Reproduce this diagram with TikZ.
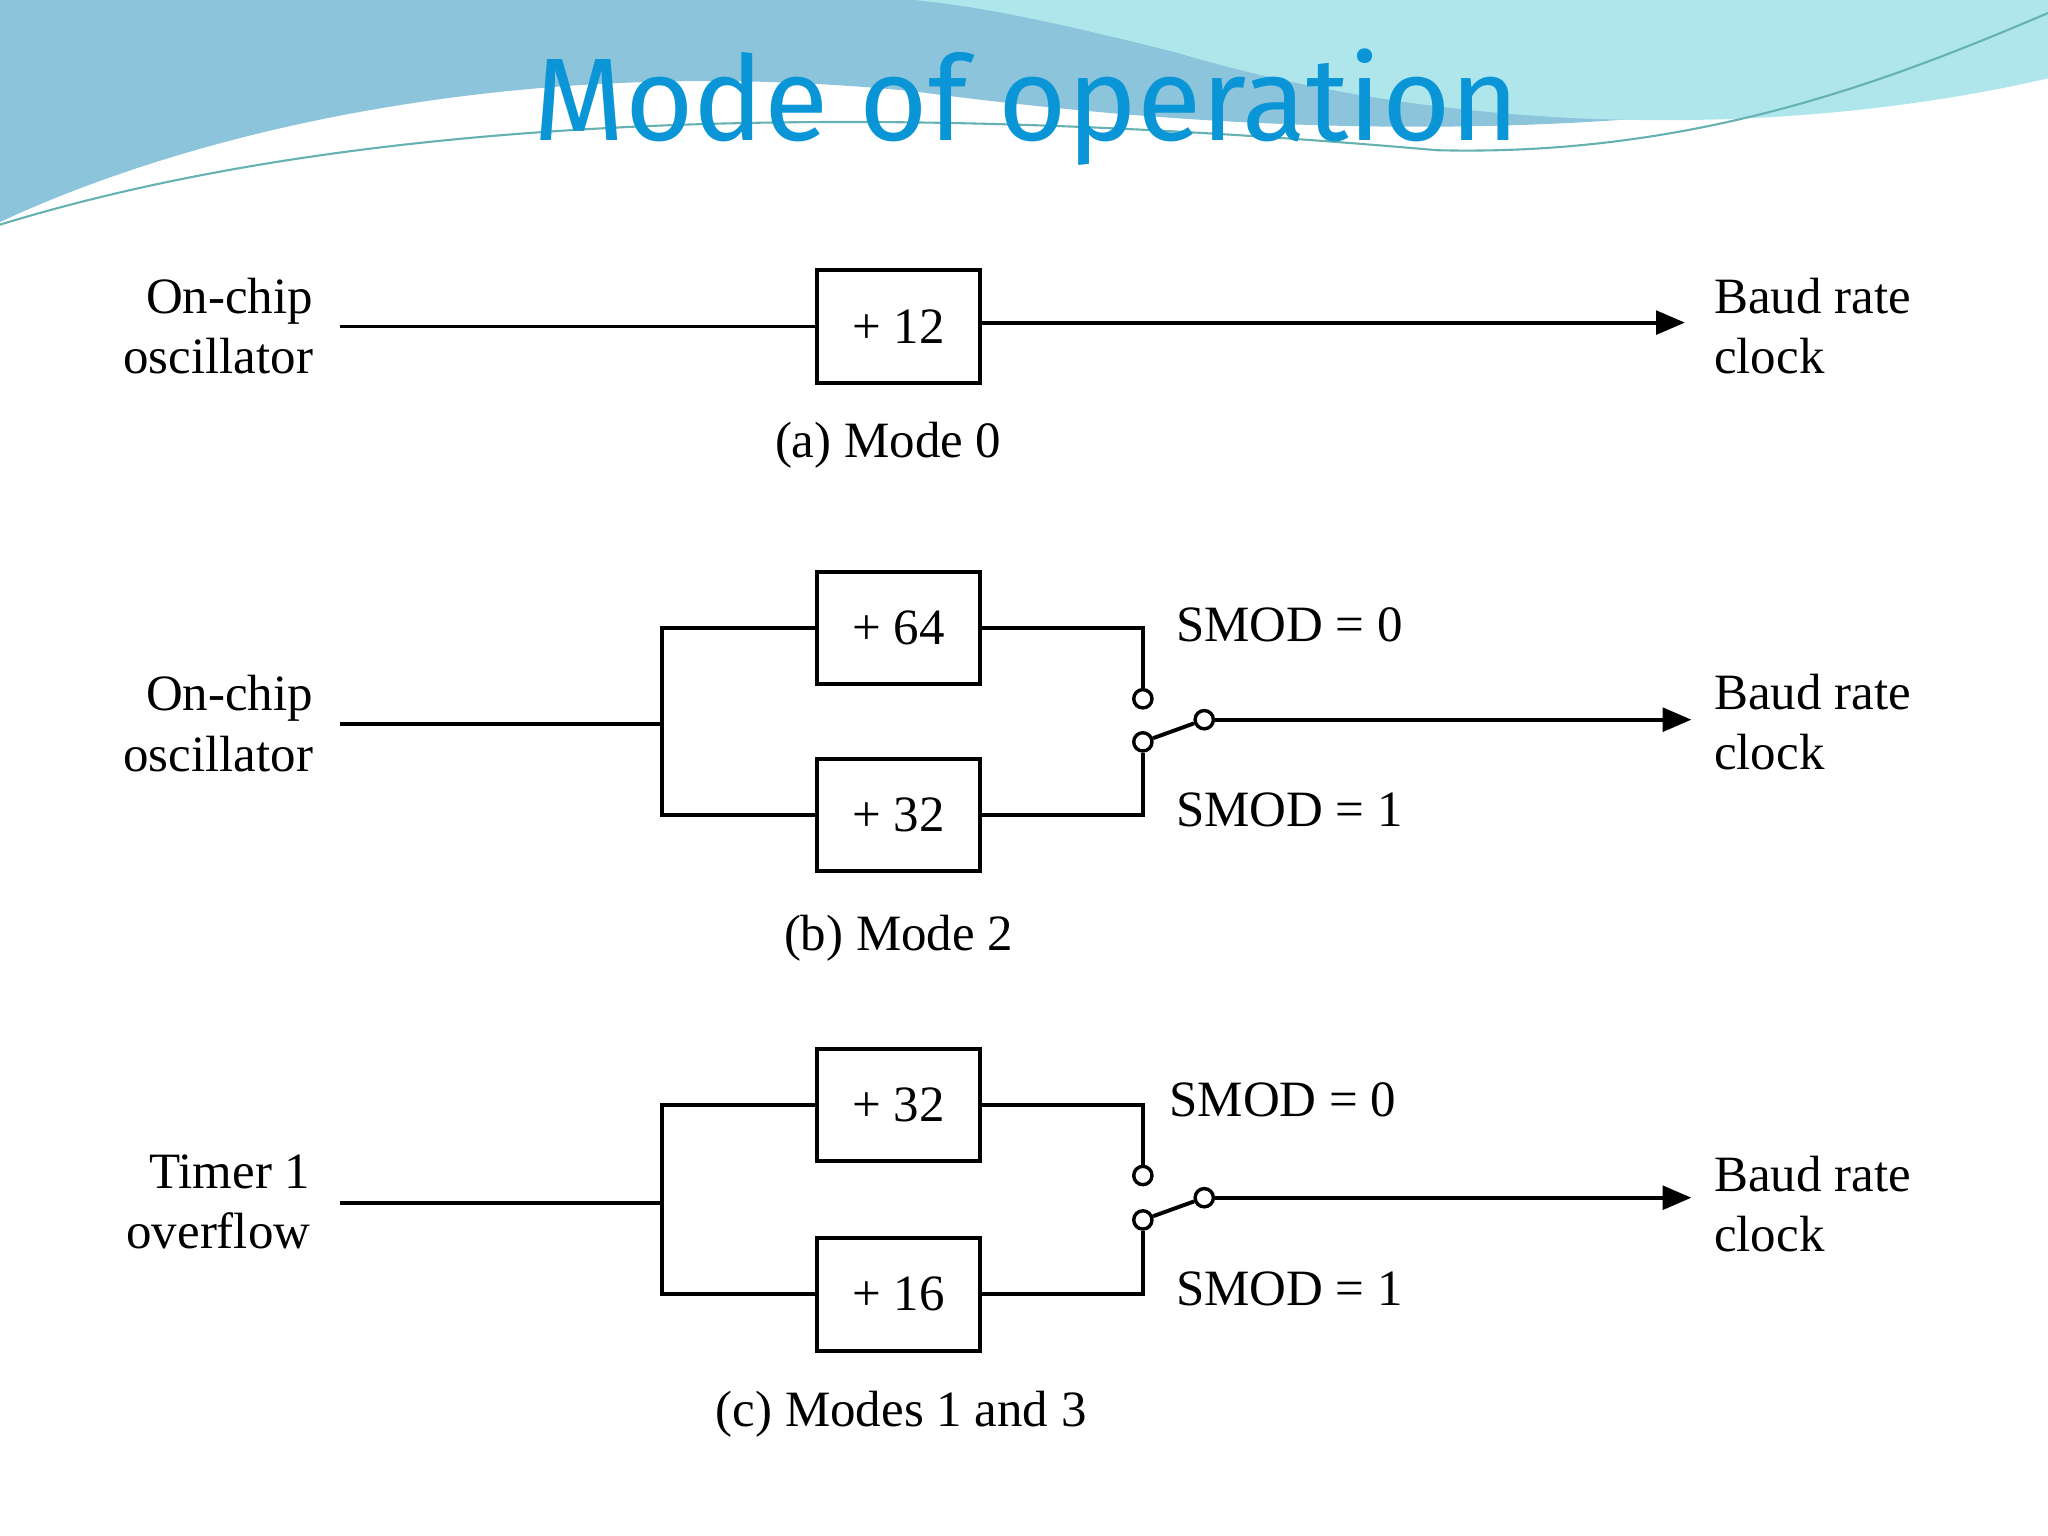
\documentclass[tikz,border=0pt]{standalone}
\usepackage{fontspec}
\setmainfont{Liberation Serif}
\newfontfamily\titlefont{Fira Sans}
\usetikzlibrary{arrows.meta}
\definecolor{hdrA}{HTML}{8CC4DC}
\definecolor{hdrB}{HTML}{AEE6EC}
\definecolor{ttl}{HTML}{0A96D6}
\begin{document}
\begin{tikzpicture}[x=0.5pt,y=-0.5pt,
  lbl/.style={font=\fontsize{19.5}{23}\selectfont, align=center, inner sep=0},
  box/.style={draw, line width=1.5pt, minimum width=62.5pt, minimum height=43pt, font=\fontsize{19.5}{23}\selectfont},
  wire/.style={line width=1.5pt},
  arr/.style={wire,-{Triangle[length=11pt,width=9pt]}},
  pin/.style={circle, draw, line width=1.3pt, fill=white, inner sep=0, minimum size=7pt}]
\useasboundingbox (0,0) rectangle (1568,1176);
\fill[white] (0,0) rectangle (1568,1176);
% header
\fill[hdrA] (0,0) -- (1568,0) -- (1568,40) .. controls (1300,110) and (1000,110) .. (700,70) .. controls (400,40) and (150,100) .. (0,170) -- cycle;
\fill[hdrB] (700,0) -- (1568,0) -- (1568,60) .. controls (1350,110) and (1100,100) .. (900,40) .. controls (800,15) and (750,5) .. (700,0) -- cycle;
\draw[teal!60,line width=0.8pt] (0,172) .. controls (300,80) and (700,80) .. (1100,115) .. controls (1300,120) and (1450,60) .. (1568,10);
\node[font=\titlefont\fontsize{45}{50}\selectfont, text=ttl] (title) at (786,82) {Mode of operation};

% Mode 0
\node[box] (d12) at (688,250) {+ 12};
\node[lbl, anchor=east, align=right] (in0) at (240,250) {On-chip\\ oscillator};
\node[lbl, anchor=west, align=left] (out0) at (1312,250) {Baud rate\\ clock};
\node[lbl] (cap0) at (680,341) {(a) Mode 0};
\draw[wire] (260,250) coordinate (s0) -- (d12.west);
\coordinate (e0) at (1290,247);
\draw[arr] (d12.east |- e0) -- (e0);

% Mode 2
\node[box] (d64) at (688,481) {+ 64};
\node[box] (d32) at (688,624) {+ 32};
\node[lbl, anchor=east, align=right] (in2) at (240,554) {On-chip\\ oscillator};
\node[lbl, anchor=west, align=left] (out2) at (1312,553) {Baud rate\\ clock};
\node[lbl] (cap2) at (688,718) {(b) Mode 2};
\node[lbl, anchor=west] (s20) at (900,478) {SMOD = 0};
\node[lbl, anchor=west] (s21) at (900,620) {SMOD = 1};
\coordinate (i2) at (260,554);
\coordinate (j2) at (507,554);
\draw[wire] (i2) -- (j2);
\draw[wire] (d64.west) -| (j2) |- (d32.west);
\node[pin] (p20) at (875,535) {};
\node[pin] (p21) at (875,568) {};
\node[pin] (p2c) at (922,551) {};
\draw[wire] (d64.east) -| (p20.north);
\draw[wire] (d32.east) -| (p21.south);
\draw[wire] (p21) -- (p2c);
\coordinate (e2) at (1295,551);
\draw[arr] (p2c) -- (e2);

% Mode 1 and 3
\node[box] (d32b) at (688,846) {+ 32};
\node[box] (d16) at (688,991) {+ 16};
\node[lbl, anchor=east, align=right] (in3) at (238,920) {Timer 1\\ overflow};
\node[lbl, anchor=west, align=left] (out3) at (1312,922) {Baud rate\\ clock};
\node[lbl] (cap3) at (690,1083) {(c) Modes 1 and 3};
\node[lbl, anchor=west] (s30) at (895,842) {SMOD = 0};
\node[lbl, anchor=west] (s31) at (900,987) {SMOD = 1};
\coordinate (i3) at (260,921);
\coordinate (j3) at (507,921);
\draw[wire] (i3) -- (j3);
\draw[wire] (d32b.west) -| (j3) |- (d16.west);
\node[pin] (p30) at (875,900) {};
\node[pin] (p31) at (875,934) {};
\node[pin] (p3c) at (922,917) {};
\draw[wire] (d32b.east) -| (p30.north);
\draw[wire] (d16.east) -| (p31.south);
\draw[wire] (p31) -- (p3c);
\coordinate (e3) at (1295,917);
\draw[arr] (p3c) -- (e3);
\end{tikzpicture}
\end{document}
